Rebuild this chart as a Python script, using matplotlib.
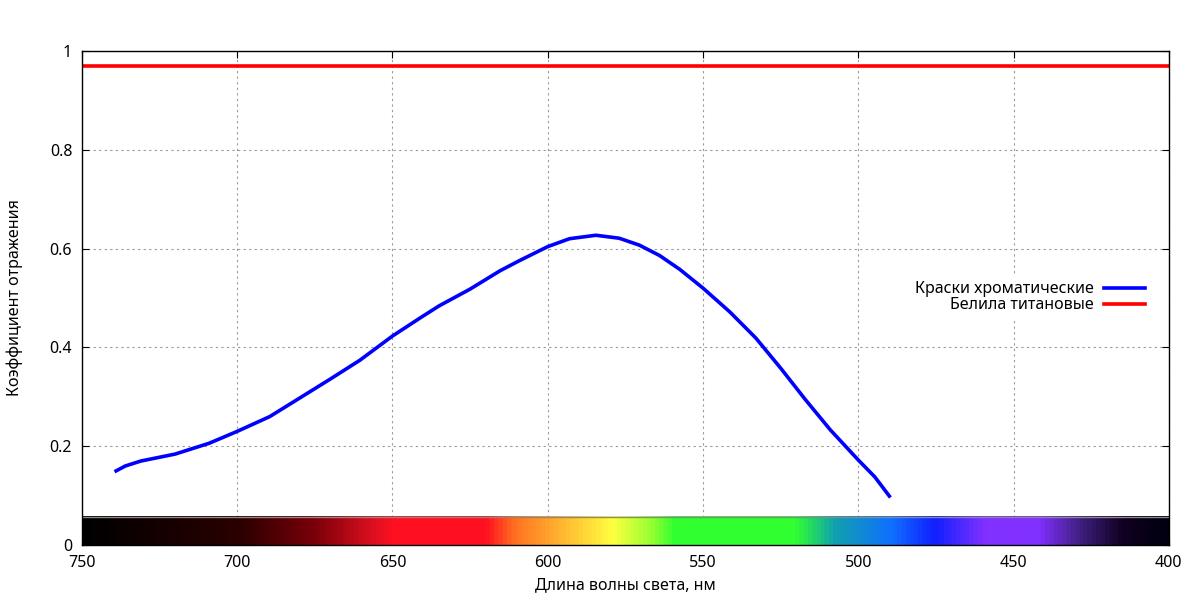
import matplotlib
matplotlib.use("Agg")
import matplotlib.pyplot as plt
import numpy as np
from matplotlib.colors import LinearSegmentedColormap

plt.rcParams["font.family"] = ["Noto Sans", "DejaVu Sans"]

# reflectance of chromatic paint vs wavelength (nm)
paint_wl = [739, 736, 731, 720, 709, 700, 689.5, 680, 670, 660.5, 650, 641, 635, 625,
            615.4, 609, 600, 593, 584.5, 577, 570.5, 564, 557.5, 550, 541.4, 533, 525,
            517, 509, 500, 494.7, 490]
paint_refl = [0.150, 0.160, 0.170, 0.184, 0.206, 0.230, 0.260, 0.297, 0.336, 0.374, 0.423,
              0.460, 0.484, 0.518, 0.555, 0.576, 0.604, 0.620, 0.627, 0.621, 0.607, 0.586,
              0.558, 0.520, 0.472, 0.419, 0.358, 0.294, 0.233, 0.172, 0.138, 0.099]

# titanium white, flat reflectance
white_wl = [750, 400]
white_refl = [0.97, 0.97]

# spectrum strip stops
spec_wl = [750, 700, 676, 656, 650, 620, 611, 597, 579, 566, 559, 520, 507, 489, 475,
           459, 441, 428, 414, 400]
spec_col = ["#000000", "#2a0000", "#780008", "#e01020", "#ff1020", "#ff1020", "#ff7020",
            "#ffb030", "#ffff40", "#90ff30", "#30ff30", "#30ff30", "#10a0b0", "#1070ff",
            "#1020ff", "#8030ff", "#8030ff", "#402080", "#100020", "#000010"]
spec_top = 0.057

fig = plt.figure(figsize=(12, 6), dpi=100)
ax = fig.add_axes([0.0683, 0.0917, 0.9057, 0.8233])

# spectrum strip
lo, hi = min(spec_wl), max(spec_wl)
stops = [((w - lo) / (hi - lo), c) for w, c in sorted(zip(spec_wl, spec_col))]
cmap = LinearSegmentedColormap.from_list("spec", stops)
grad = np.linspace(lo, hi, 1000)[np.newaxis, :]
ax.imshow(grad, extent=[lo, hi, 0, spec_top], aspect="auto", cmap=cmap,
          vmin=lo, vmax=hi, origin="lower", zorder=2)
ax.plot([hi, lo], [spec_top, spec_top], color="#888888", lw=1, zorder=3)

ax.plot(paint_wl, paint_refl, color="#0000ff", lw=2.6, label="Краски хроматические", zorder=4)
ax.plot(white_wl, white_refl, color="#ff0000", lw=2.6, label="Белила титановые", zorder=4)

ax.set_xlim(750, 400)
ax.set_ylim(0, 1)
ax.set_xticks(np.arange(750, 399, -50))
ax.set_yticks([0, 0.2, 0.4, 0.6, 0.8, 1.0])
ax.set_yticklabels(["0", "0.2", "0.4", "0.6", "0.8", "1"])
ax.tick_params(direction="in", top=True, right=True, labelsize=11.5, length=5, pad=7)
ax.grid(True, color="#999999", linestyle=(0, (2, 3)), lw=0.8, zorder=1)
for s in ax.spines.values():
    s.set_linewidth(1.0)
    s.set_zorder(5)

ax.set_xlabel("Длина волны света, нм", fontsize=11.5, labelpad=5)
ax.set_ylabel("Коэффициент отражения", fontsize=11.5, labelpad=19)

leg = ax.legend(loc="upper right", bbox_to_anchor=(0.99, 0.56), markerfirst=False,
                frameon=True, fontsize=11.5, handlelength=2.6, borderpad=0.3,
                labelspacing=0.0, handletextpad=0.6)
leg.get_frame().set_facecolor("white")
leg.get_frame().set_edgecolor("none")
leg.get_frame().set_alpha(1)
for t in leg.get_texts():
    t.set_ha("right")
leg._legend_box.align = "right"

fig.savefig("out.png", dpi=100)
